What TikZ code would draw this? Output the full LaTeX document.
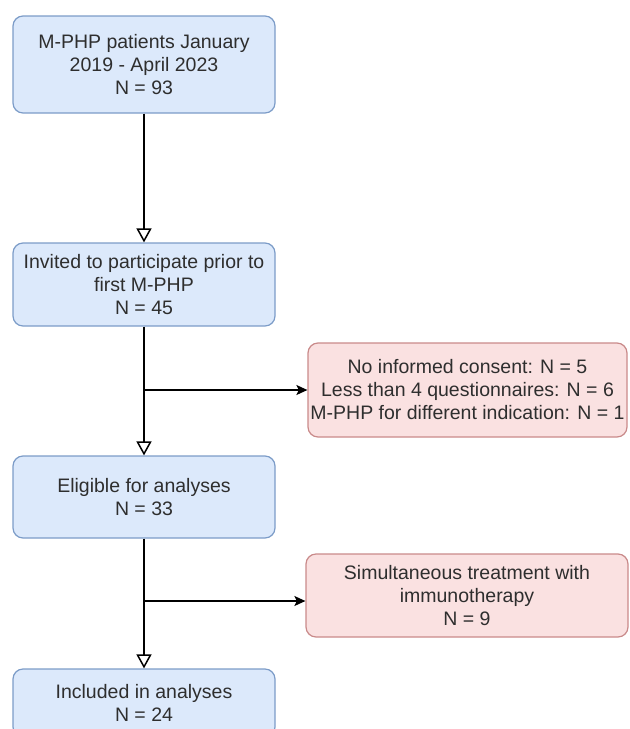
\documentclass[tikz,border=0pt]{standalone}
\usepackage{fontspec}
\setmainfont{Liberation Sans}
\usetikzlibrary{arrows.meta}

\definecolor{bluefill}{HTML}{DCE9FB}
\definecolor{blueline}{HTML}{7C9CC8}
\definecolor{redfill}{HTML}{FAE1E1}
\definecolor{redline}{HTML}{C98A8A}
\definecolor{boxtext}{HTML}{2E2E2E}

\begin{document}
\begin{tikzpicture}[x=0.5pt,y=-0.5pt,
    font=\fontsize{9.75pt}{11.5pt}\selectfont,
    stagebox/.style={draw=blueline,fill=bluefill,text=boxtext,line width=0.6pt,rounded corners=5pt,
        align=center,inner sep=0pt,minimum width=131pt},
    dropbox/.style={draw=redline,fill=redfill,text=boxtext,line width=0.6pt,rounded corners=5pt,
        align=center,inner sep=0pt},
    flow/.style={line width=0.75pt,-{Triangle[open,length=7pt,width=7.5pt]}},
    side/.style={line width=0.75pt,-{Stealth[length=5.5pt,width=5pt,inset=1.2pt]}}]

        % frame of the page
        \useasboundingbox (0,0) rectangle (630,729);

        % the stages down the left
        \node[stagebox,minimum height=48.5pt] (patients) at (144,64.5)
            {M-PHP patients January\\2019 - April 2023\\N = 93};
        \node[stagebox,minimum height=41.5pt] (invited) at (144,284.5)
            {Invited to participate prior to\\first M-PHP\\N = 45};
        \node[stagebox,minimum height=41pt] (eligible) at (144,497)
            {Eligible for analyses\\N = 33};
        \node[stagebox,minimum height=34pt] (included) at (144,703)
            {Included in analyses\\N = 24};

	% the excluded patients on the right
	\node[dropbox,minimum width=159.5pt,minimum height=47pt] (noconsent) at (467.5,390)
	    {No informed consent: N = 5\\Less than 4 questionnaires: N = 6\\M-PHP for different indication: N = 1};
	\node[dropbox,minimum width=161pt,minimum height=41.5pt] (immuno) at (467,595.5)
	    {Simultaneous treatment with\\immunotherapy\\N = 9};

	% branch points on the main line
	\coordinate (split1) at (144,390);
	\coordinate (split2) at (144,601);

	% arrows down
	\draw[flow] (patients) -- (invited);
	\draw[flow] (invited) -- (eligible);
	\draw[flow] (eligible) -- (included);

	% arrows to the side
	\draw[side] (split1) -- (noconsent.west);
	\draw[side] (split2) -- (split2 -| immuno.west);

\end{tikzpicture}
\end{document}
